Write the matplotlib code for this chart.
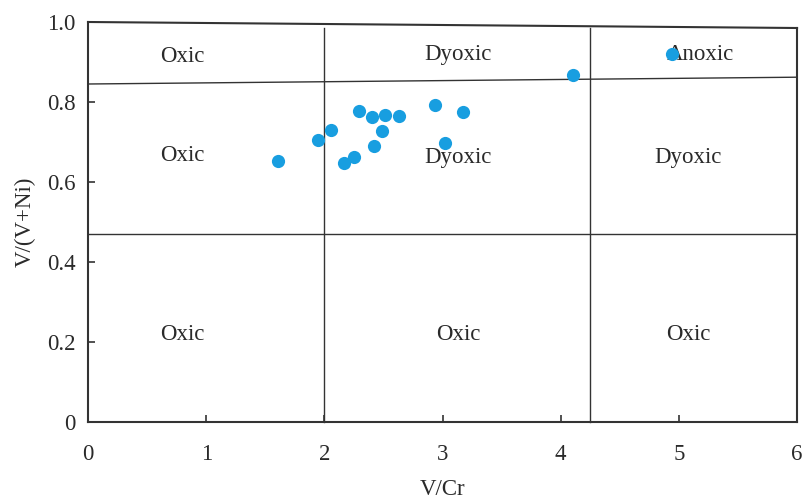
import matplotlib
matplotlib.use("Agg")
import matplotlib.pyplot as plt

vcr = [1.61, 1.95, 2.06, 2.17, 2.25, 2.29, 2.40, 2.42, 2.49, 2.51, 2.63, 2.94, 3.02, 3.17, 4.10, 4.94]
vvni = [0.653, 0.705, 0.730, 0.648, 0.663, 0.778, 0.763, 0.690, 0.728, 0.768, 0.765, 0.793, 0.698, 0.775, 0.868, 0.920]

xticks = [0, 1, 2, 3, 4, 5, 6]
yticks = [0, 0.2, 0.4, 0.6, 0.8, 1.0]
ytick_labels = ["0", "0.2", "0.4", "0.6", "0.8", "1.0"]

region_labels = ["Oxic", "Dyoxic", "Anoxic", "Oxic", "Dyoxic", "Dyoxic", "Oxic", "Oxic", "Oxic"]
region_x = [0.80, 3.13, 5.18, 0.80, 3.13, 5.08, 0.80, 3.13, 5.08]
region_y = [0.913, 0.918, 0.918, 0.665, 0.660, 0.660, 0.220, 0.220, 0.220]

plt.rcParams['font.family'] = ['Liberation Serif', 'DejaVu Serif']

fig = plt.figure(figsize=(8.03, 5.0), dpi=100)
ax = fig.add_axes([0.1096, 0.156, 0.883, 0.80])
ax.set_xlim(0, 6)
ax.set_ylim(0, 1.0)

lc = '#333333'
tc = '#2a2a2a'
fs = 16.5
# boundary lines
ax.plot([2, 2], [0, 0.985], color=lc, lw=1.0, clip_on=False)
ax.plot([4.25, 4.25], [0, 0.985], color=lc, lw=1.0, clip_on=False)
ax.plot([0, 6], [0.47, 0.47], color=lc, lw=1.0)
ax.plot([0, 6], [0.845, 0.862], color=lc, lw=1.0)
# slanted top border
ax.plot([0, 6], [1.0, 0.985], color=lc, lw=1.5, clip_on=False)
ax.spines['top'].set_visible(False)
for s in ['left', 'bottom', 'right']:
    ax.spines[s].set_color(lc)
    ax.spines[s].set_linewidth(1.5)
ax.spines['right'].set_bounds(0, 0.985)

for t, x, y in zip(region_labels, region_x, region_y):
    ax.text(x, y, t, ha='center', va='center', fontsize=fs, color=tc)

ax.plot(vcr, vvni, 'o', color='#189ee0', markersize=9.5, markeredgewidth=0, zorder=5, clip_on=False)

ax.set_xticks(xticks)
ax.set_yticks(yticks)
ax.set_yticklabels(ytick_labels)
ax.tick_params(direction='in', length=5, width=1.2, colors=lc, labelsize=fs, labelcolor=tc)
ax.tick_params(axis='x', pad=16)
ax.tick_params(axis='y', pad=9)
ax.set_xlabel('V/Cr', fontsize=fs, labelpad=10, color=tc)
ax.set_ylabel('V/(V+Ni)', fontsize=fs, labelpad=8, color=tc)

fig.savefig('out.png', dpi=100, facecolor='white')
